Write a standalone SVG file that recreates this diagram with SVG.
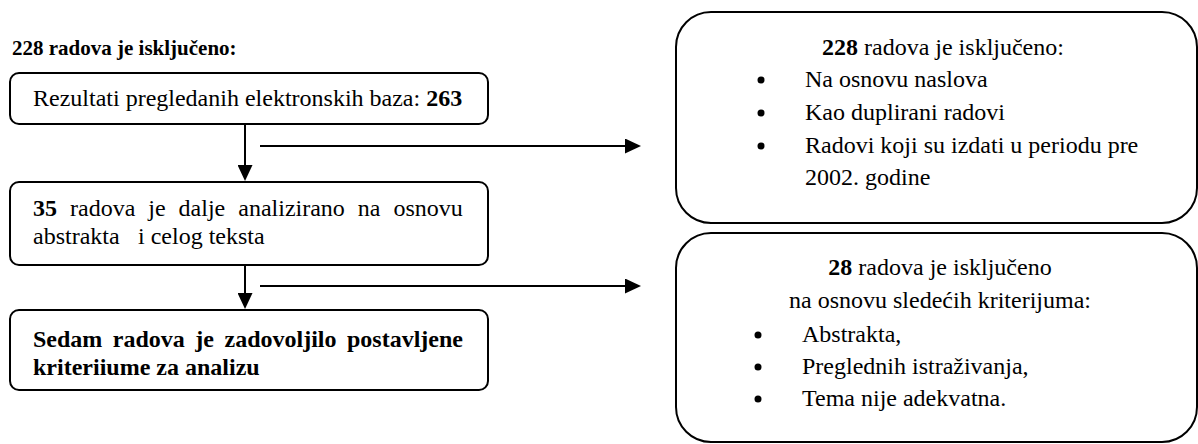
<svg xmlns="http://www.w3.org/2000/svg" width="1198" height="444" viewBox="0 0 1198 444">
  <style>
    .t { font-family: "Liberation Serif", "Times New Roman", serif; font-size: 24px; fill: #000; }
    .b { font-weight: bold; }
    .box { fill: #fff; stroke: #000; stroke-width: 2; }
    .conn { stroke: #000; stroke-width: 2; fill: none; marker-end: url(#arr); }
    .dot { fill: #000; }
  </style>
  <defs>
    <marker id="arr" markerUnits="userSpaceOnUse" markerWidth="16" markerHeight="15" refX="0" refY="7.5" orient="auto">
      <path d="M0,0 L16,7.5 L0,15 z" fill="#000"/>
    </marker>
  </defs>
  <rect width="1198" height="444" fill="#fff"/>

  <text id="title" class="t b" x="12" y="55" style="font-size:21px">228 radova je isključeno:</text>

  <g id="connectors">
    <line class="conn" x1="245" y1="117" x2="245" y2="165"/>
    <line class="conn" x1="260" y1="146" x2="625" y2="146"/>
    <line class="conn" x1="245" y1="257" x2="245" y2="293"/>
    <line class="conn" x1="260" y1="286" x2="625" y2="286"/>
  </g>

  <g id="n1">
    <rect class="box" x="10" y="73" width="478" height="51" rx="9"/>
    <text class="t" x="33" y="106">Rezultati pregledanih elektronskih baza: <tspan class="b">263</tspan></text>
  </g>

  <g id="n2">
    <rect class="box" x="10" y="182" width="478" height="83" rx="9"/>
    <text class="t" x="33" y="216" word-spacing="7"><tspan class="b">35</tspan> radova je dalje analizirano na osnovu</text>
    <text class="t" x="33" y="244">abstrakta</text>
    <text class="t" x="138" y="244">i celog teksta</text>
  </g>

  <g id="n3">
    <rect class="box" x="10" y="310" width="478" height="80" rx="9"/>
    <text class="t b" x="33" y="347" word-spacing="4.5">Sedam radova je zadovoljilo postavljene</text>
    <text class="t b" x="33" y="375">kriteriiume za analizu</text>
  </g>

  <g id="n4">
    <rect class="box" x="676" y="12" width="521" height="211" rx="35"/>
    <text class="t" x="822" y="55"><tspan class="b">228</tspan> radova je isključeno:</text>
    <circle class="dot" cx="761" cy="80" r="3.5"/>
    <text class="t" x="805" y="87">Na osnovu naslova</text>
    <circle class="dot" cx="761" cy="113" r="3.5"/>
    <text class="t" x="805" y="120">Kao duplirani radovi</text>
    <circle class="dot" cx="761" cy="146" r="3.5"/>
    <text class="t" x="805" y="153">Radovi koji su izdati u periodu pre</text>
    <text class="t" x="805" y="185">2002. godine</text>
  </g>

  <g id="n5">
    <rect class="box" x="676" y="233" width="521" height="209" rx="35"/>
    <text class="t" x="940" y="275" text-anchor="middle"><tspan class="b">28</tspan> radova je isključeno</text>
    <text class="t" x="940" y="308" text-anchor="middle">na osnovu sledećih kriterijuma:</text>
    <circle class="dot" cx="758" cy="335" r="3.5"/>
    <text class="t" x="802" y="342">Abstrakta,</text>
    <circle class="dot" cx="758" cy="367" r="3.5"/>
    <text class="t" x="802" y="374">Preglednih istraživanja,</text>
    <circle class="dot" cx="758" cy="399" r="3.5"/>
    <text class="t" x="802" y="406">Tema nije adekvatna.</text>
  </g>
</svg>
